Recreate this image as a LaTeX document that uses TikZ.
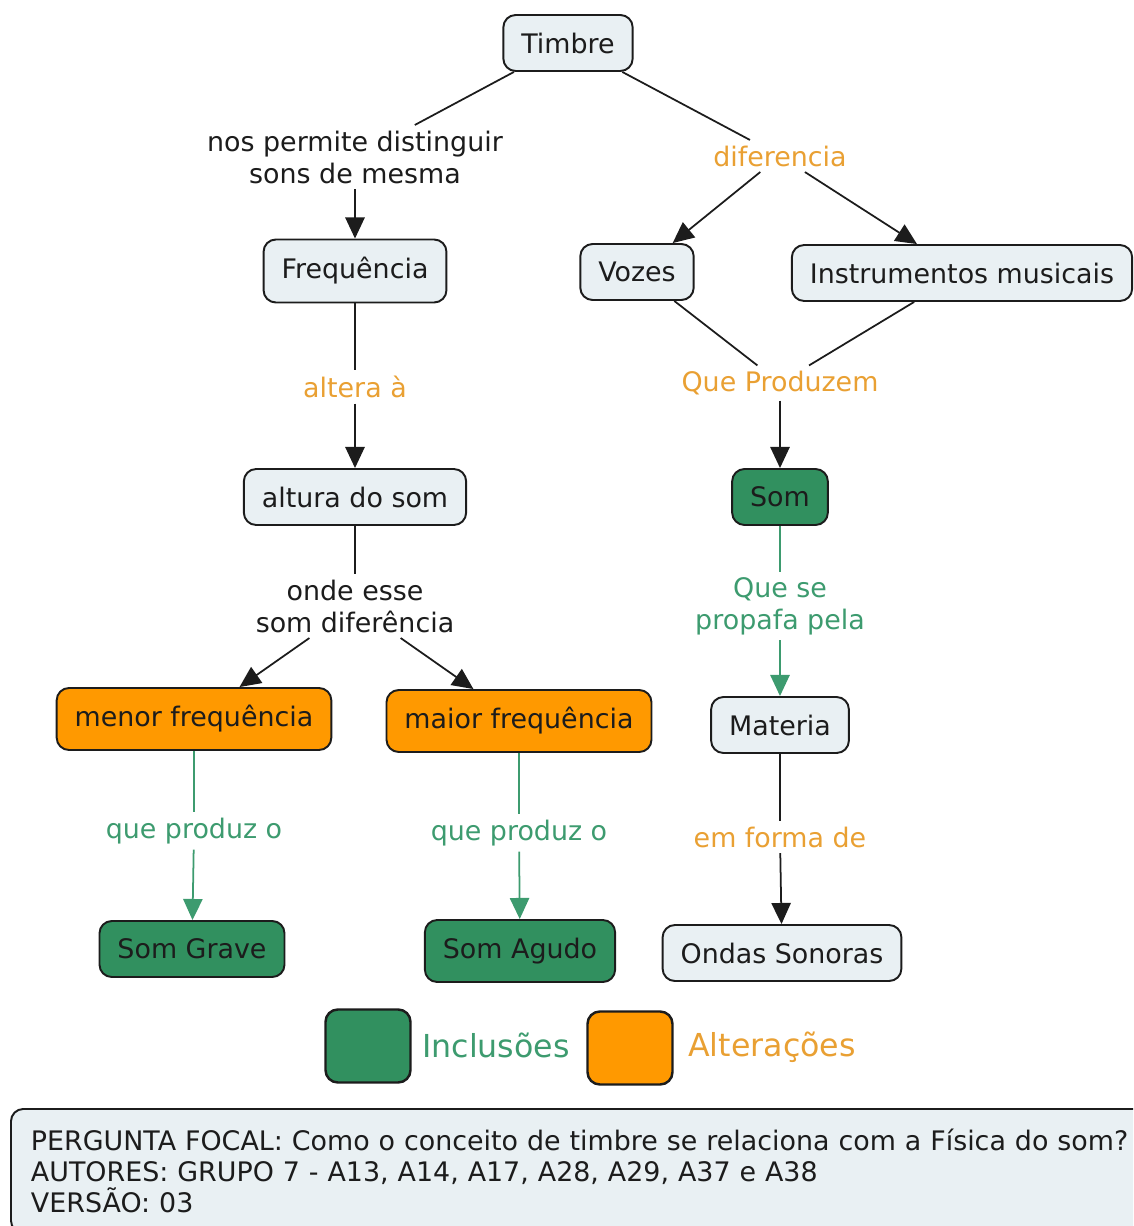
\documentclass[tikz,border=0pt]{standalone}
\usepackage{fontspec}
\setmainfont{DejaVu Sans}
\usepackage{xcolor}
\usepackage{tikz}
\usetikzlibrary{shapes.geometric, arrows.meta, positioning, calc}

\definecolor{conceptfill}{HTML}{E9F0F3}
\definecolor{inclgreen}{HTML}{31905F}
\definecolor{altorange}{HTML}{FF9900}
\definecolor{inctext}{HTML}{3D9B6F}
\definecolor{alttext}{HTML}{E9A033}
\definecolor{borda}{HTML}{1C1C1C}

\tikzset{
    conceito/.style={rectangle, draw=borda, fill=conceptfill, line width=1.1pt, rounded corners=7pt, inner xsep=0.36cm, minimum height=1.12cm, font=\fontsize{15.3}{18.2}\selectfont, text=borda},
    inclusao/.style={conceito, fill=inclgreen},
    alteracao/.style={conceito, fill=altorange},
    frase/.style={rectangle, inner sep=3pt, align=center, font=\fontsize{15.3}{18.2}\selectfont, text=borda},
    frasealt/.style={frase, text=alttext},
    fraseinc/.style={frase, text=inctext},
    liga/.style={draw=borda, line width=1pt},
    seta/.style={liga, -{Triangle[length=12pt, width=11pt]}},
    ligainc/.style={draw=inctext, line width=1pt},
    setainc/.style={ligainc, -{Triangle[length=12pt, width=11pt]}}
}

\begin{document}
\begin{tikzpicture}[x=0.02cm, y=-0.02cm]
    \useasboundingbox (0,0) rectangle (1133,1226);
    \clip (0,0) rectangle (1133,1226);

    \node [conceito] (timbre) at (568,43) {Timbre};
    \node [frase] (permite) at (355,157) {nos permite distinguir\\sons de mesma};
    \node [conceito, minimum height=1.26cm] (frequencia) at (355,271) {Frequência};
    \node [frasealt] (altera) at (355,387) {altera à};
    \node [conceito] (altura) at (355,497) {altura do som};
    \node [frase] (onde) at (355,606) {onde esse\\som diferência};
    \node [alteracao, minimum height=1.24cm] (menor) at (194,719) {menor frequência};
    \node [alteracao, minimum height=1.24cm] (maior) at (519,721) {maior frequência};
    \node [fraseinc] (produzmenor) at (194,831) {que produz o};
    \node [fraseinc] (produzmaior) at (519,833) {que produz o};
    \node [inclusao] (grave) at (192,949) {Som Grave};
    \node [inclusao, minimum height=1.24cm] (agudo) at (520,951) {Som Agudo};

    \node [frasealt] (diferencia) at (780,156) {diferencia};
    \node [conceito] (vozes) at (637,272) {Vozes};
    \node [conceito] (instrumentos) at (962,273) {Instrumentos musicais};
    \node [frasealt] (produzem) at (780,383) {Que Produzem};
    \node [inclusao] (som) at (780,497) {Som};
    \node [fraseinc] (propaga) at (780,606) {Que se\\propafa pela};
    \node [conceito] (materia) at (780,725) {Materia};
    \node [frasealt] (forma) at (780,837) {em forma de};
    \node [conceito] (ondas) at (782,953) {Ondas Sonoras};

    \draw [liga] (timbre) -- (permite);
    \draw [seta] (permite) -- (frequencia);
    \draw [liga] (frequencia) -- (altera);
    \draw [seta] (altera) -- (altura);
    \draw [liga] (altura) -- (onde);
    \draw [seta] (onde) -- (menor);
    \draw [seta] (onde) -- (maior);
    \draw [ligainc] (menor) -- (produzmenor);
    \draw [setainc] (produzmenor) -- (grave);
    \draw [ligainc] (maior) -- (produzmaior);
    \draw [setainc] (produzmaior) -- (agudo);

    \draw [liga] (timbre) -- (diferencia);
    \draw [seta] (diferencia) -- (vozes);
    \draw [seta] (diferencia) -- (instrumentos);
    \draw [liga] (vozes) -- (produzem);
    \draw [liga] (instrumentos) -- (produzem);
    \draw [seta] (produzem) -- (som);
    \draw [ligainc] (som) -- (propaga);
    \draw [setainc] (propaga) -- (materia);
    \draw [liga] (materia) -- (forma);
    \draw [seta] (forma) -- (ondas);

    \node [inclusao, minimum width=1.7cm, minimum height=1.46cm, inner sep=0pt, line width=1.4pt] (leginc) at (368,1046) {};
    \node [anchor=west, inner sep=0pt, text=inctext, font=\fontsize{18}{21}\selectfont] (leginctexto) at (422,1045) {Inclusões};
    \node [alteracao, minimum width=1.7cm, minimum height=1.46cm, inner sep=0pt, line width=1.4pt] (legalt) at (630,1048) {};
    \node [anchor=west, inner sep=0pt, text=alttext, font=\fontsize{18}{21}\selectfont] (legalttexto) at (688,1047) {Alterações};

    \node [conceito, anchor=north west, align=left, inner xsep=0.4cm, minimum width=23cm, minimum height=2.48cm, text width=22.2cm, font=\fontsize{15.3}{17.8}\selectfont] (focal) at (10,1108) {
        PERGUNTA FOCAL: Como o conceito de timbre se relaciona com a Física do som?\\
        AUTORES: GRUPO 7 - A13, A14, A17, A28, A29, A37 e A38\\
        VERSÃO: 03
    };
\end{tikzpicture}
\end{document}
